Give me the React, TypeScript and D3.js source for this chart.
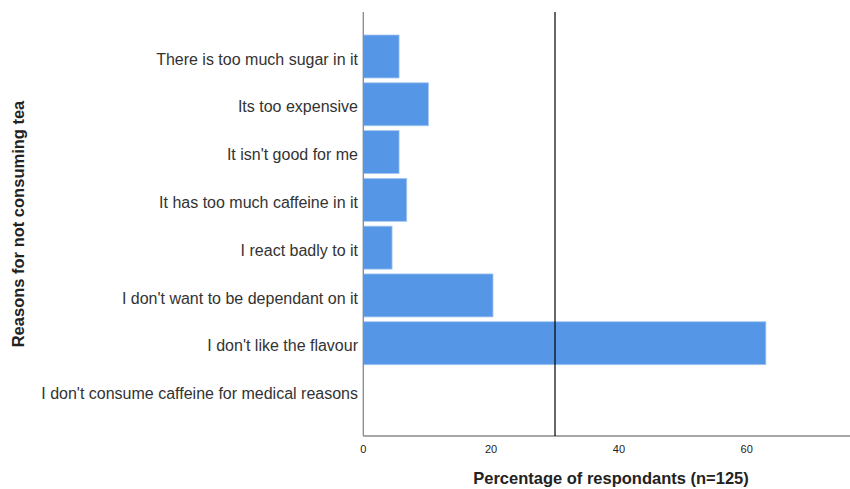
import React from "react";
import * as d3 from "d3";

const categories = [
  "There is too much sugar in it",
  "Its too expensive",
  "It isn't good for me",
  "It has too much caffeine in it",
  "I react badly to it",
  "I don't want to be dependant on it",
  "I don't like the flavour",
  "I don't consume caffeine for medical reasons",
];
const values = [5.6, 10.2, 5.6, 6.8, 4.5, 20.3, 63.0, 0];
const xTicks = [0, 20, 40, 60];
const referenceValue = 30;

const W = 850;
const H = 489;

export default function App() {
  const x0 = 363.3;
  const x = d3.scaleLinear().domain([0, 60]).range([x0, 746.7]);
  const y = d3
    .scaleBand<string>()
    .domain(categories)
    .range([32.6, 414.9])
    .paddingInner(0.1)
    .paddingOuter(0.05);
  const top = 12;
  const axisY = 436;
  const font = "'Liberation Sans', Arial, sans-serif";

  return (
    <svg
      width={W}
      height={H}
      style={{ position: "absolute", left: 0, top: 0 }}
      fontFamily={font}
    >
      <rect x={0} y={0} width={W} height={H} fill="#fff" />
      {categories.map((c, i) =>
        values[i] > 0 ? (
          <rect
            key={c}
            x={x(0)}
            y={y(c)!}
            width={x(values[i]) - x(0)}
            height={y.bandwidth()}
            fill="#5596e6"
            stroke="#a9c9f1"
            strokeWidth={0.8}
          />
        ) : null
      )}
      {categories.map((c) => (
        <text
          key={c}
          x={358}
          y={y(c)! + y.bandwidth() / 2 + 2.5}
          dy="0.35em"
          textAnchor="end"
          fontSize={16}
          fill="#333"
        >
          {c}
        </text>
      ))}
      <line x1={x0} x2={x0} y1={top} y2={axisY} stroke="#888" strokeWidth={1.3} />
      <line x1={x0} x2={W} y1={axisY} y2={axisY} stroke="#888" strokeWidth={1.3} />
      <line
        x1={x(referenceValue)}
        x2={x(referenceValue)}
        y1={top}
        y2={axisY}
        stroke="#000"
        strokeWidth={1.2}
      />
      {xTicks.map((t) => (
        <text
          key={t}
          x={x(t)}
          y={449}
          dy="0.35em"
          textAnchor="middle"
          fontSize={11}
          fill="#222"
        >
          {t}
        </text>
      ))}
      <text
        x={611}
        y={478}
        dy="0.35em"
        textAnchor="middle"
        fontSize={16.5}
        fontWeight="bold"
        fill="#222"
      >
        Percentage of respondants (n=125)
      </text>
      <text
        transform={`translate(18,224) rotate(-90)`}
        dy="0.35em"
        textAnchor="middle"
        fontSize={16.5}
        fontWeight="bold"
        fill="#222"
      >
        Reasons for not consuming tea
      </text>
    </svg>
  );
}
